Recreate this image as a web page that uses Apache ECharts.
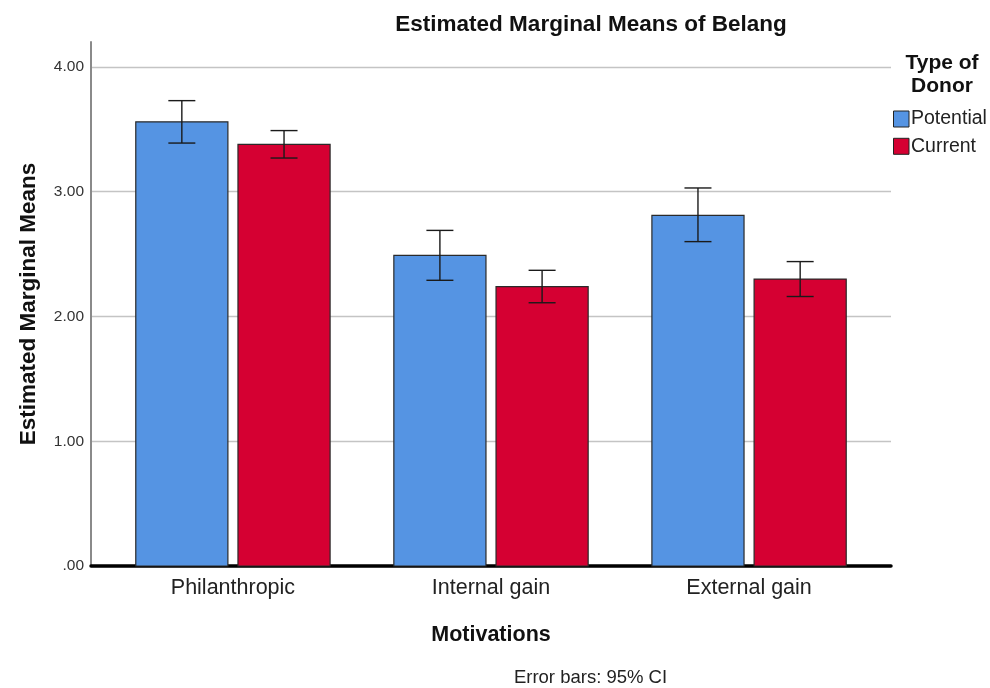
<!DOCTYPE html>
<html>
<head>
<meta charset="utf-8">
<title>Estimated Marginal Means of Belang</title>
<script src="https://cdn.jsdelivr.net/npm/echarts@6/dist/echarts.min.js"></script>
<style>
  html, body { margin: 0; padding: 0; background: #fff; }
  #chart { width: 990px; height: 688px; }
</style>
</head>
<body>
<div id="chart"></div>
<script>
// Motivation categories on the x axis
const categories = ['Philanthropic', 'Internal gain', 'External gain'];
// Donor groups
const groups = ['Potential', 'Current'];
// Estimated marginal means
const potentialMeans = [3.56, 2.49, 2.81];
const currentMeans = [3.38, 2.24, 2.30];
// 95% confidence intervals
const potentialLow = [3.39, 2.29, 2.60];
const potentialHigh = [3.73, 2.69, 3.03];
const currentLow = [3.27, 2.11, 2.16];
const currentHigh = [3.49, 2.37, 2.44];
// y axis ticks
const yTicks = [0, 1, 2, 3, 4];

const FONT = '"Liberation Sans", Arial, sans-serif';
const colors = ['#5594E3', '#D50032'];
const BAR_FRAC = 0.357;   // bar width as share of category step
const OFF_FRAC = 0.198;   // bar centre offset from category centre
const CAP_PX = 27;

function barRenderer(sign) {
  return function (params, api) {
    const x = api.value(0);
    const top = api.coord([x, api.value(1)]);
    const base = api.coord([x, 0]);
    const step = api.size([1, 0])[0];
    const w = step * BAR_FRAC;
    const cx = top[0] + sign * step * OFF_FRAC;
    return {
      type: 'rect',
      shape: { x: cx - w / 2, y: top[1], width: w, height: base[1] - top[1] },
      style: { fill: api.visual('color'), stroke: '#2a2a2a', lineWidth: 1.2 }
    };
  };
}

function errRenderer(sign) {
  return function (params, api) {
    const x = api.value(0);
    const lo = api.coord([x, api.value(1)]);
    const hi = api.coord([x, api.value(2)]);
    const step = api.size([1, 0])[0];
    const cx = lo[0] + sign * step * OFF_FRAC;
    const st = { stroke: '#1a1a1a', lineWidth: 1.4 };
    return {
      type: 'group',
      children: [
        { type: 'line', shape: { x1: cx, y1: hi[1], x2: cx, y2: lo[1] }, style: st },
        { type: 'line', shape: { x1: cx - CAP_PX / 2, y1: hi[1], x2: cx + CAP_PX / 2, y2: hi[1] }, style: st },
        { type: 'line', shape: { x1: cx - CAP_PX / 2, y1: lo[1], x2: cx + CAP_PX / 2, y2: lo[1] }, style: st }
      ]
    };
  };
}

function label(text, x, y, size, weight, color) {
  return {
    type: 'text', x: x, y: y, silent: true,
    style: {
      text: text, align: 'center', verticalAlign: 'middle',
      font: weight + ' ' + size + 'px ' + FONT, fill: color
    }
  };
}

const chart = echarts.init(document.getElementById('chart'), null, { renderer: 'canvas' });

chart.setOption({
  animation: false,
  backgroundColor: '#fff',
  textStyle: { fontFamily: FONT },
  graphic: [
    label('Estimated Marginal Means of Belang', 591, 24.5, 22.5, 'bold', '#111'),
    label('Type of', 942, 63.5, 21, 'bold', '#111'),
    label('Donor', 942, 86, 21, 'bold', '#111'),
    label('Error bars: 95% CI', 590.5, 677.5, 18.5, 'normal', '#222')
  ],
  legend: {
    data: groups,
    orient: 'vertical',
    left: 888, top: 104,
    itemWidth: 15.5, itemHeight: 16, itemGap: 7.3,
    icon: 'rect',
    itemStyle: { borderColor: '#222', borderWidth: 1 },
    textStyle: { fontFamily: FONT, fontSize: 19.5, color: '#222', padding: [0, 0, 0, -3] },
    selectedMode: false
  },
  grid: { left: 91, right: 99, top: 42, bottom: 122, containLabel: false },
  xAxis: {
    type: 'value',
    min: -0.55, max: 2.55,
    name: 'Motivations',
    nameLocation: 'middle',
    nameGap: 58,
    nameTextStyle: { fontFamily: FONT, fontSize: 21.5, fontWeight: 'bold', color: '#111' },
    axisLine: { show: true, onZero: false, lineStyle: { color: '#000', width: 3.5 } },
    axisTick: { show: false },
    splitLine: { show: false },
    axisLabel: {
      customValues: [0, 1, 2],
      formatter: v => categories[Math.round(v)],
      fontFamily: FONT, fontSize: 21.5, color: '#222', margin: 11
    }
  },
  yAxis: {
    type: 'value',
    min: 0, max: 4.2,
    name: 'Estimated Marginal Means',
    nameLocation: 'middle',
    nameGap: 51,
    nameTextStyle: { fontFamily: FONT, fontSize: 22.5, fontWeight: 'bold', color: '#111' },
    axisLine: { show: true, onZero: false, lineStyle: { color: '#8a8a8a', width: 2 } },
    axisTick: { show: false, customValues: yTicks },
    splitLine: { show: true, lineStyle: { color: '#c4c4c4', width: 1.3 } },
    axisLabel: {
      customValues: yTicks,
      formatter: v => (v === 0 ? '.00' : v.toFixed(2)),
      fontFamily: FONT, fontSize: 15.5, color: '#333', margin: 7,
      padding: [3, 0, 0, 0]
    }
  },
  series: [
    {
      name: groups[0], type: 'custom', itemStyle: { color: colors[0] },
      renderItem: barRenderer(-1),
      encode: { x: 0, y: 1 },
      data: potentialMeans.map((v, i) => [i, v]),
      z: 2
    },
    {
      name: groups[1], type: 'custom', itemStyle: { color: colors[1] },
      renderItem: barRenderer(1),
      encode: { x: 0, y: 1 },
      data: currentMeans.map((v, i) => [i, v]),
      z: 2
    },
    {
      name: 'potentialCI', type: 'custom',
      renderItem: errRenderer(-1),
      encode: { x: 0, y: [1, 2] },
      data: potentialLow.map((v, i) => [i, v, potentialHigh[i]]),
      z: 3
    },
    {
      name: 'currentCI', type: 'custom',
      renderItem: errRenderer(1),
      encode: { x: 0, y: [1, 2] },
      data: currentLow.map((v, i) => [i, v, currentHigh[i]]),
      z: 3
    }
  ]
});
</script>
</body>
</html>
